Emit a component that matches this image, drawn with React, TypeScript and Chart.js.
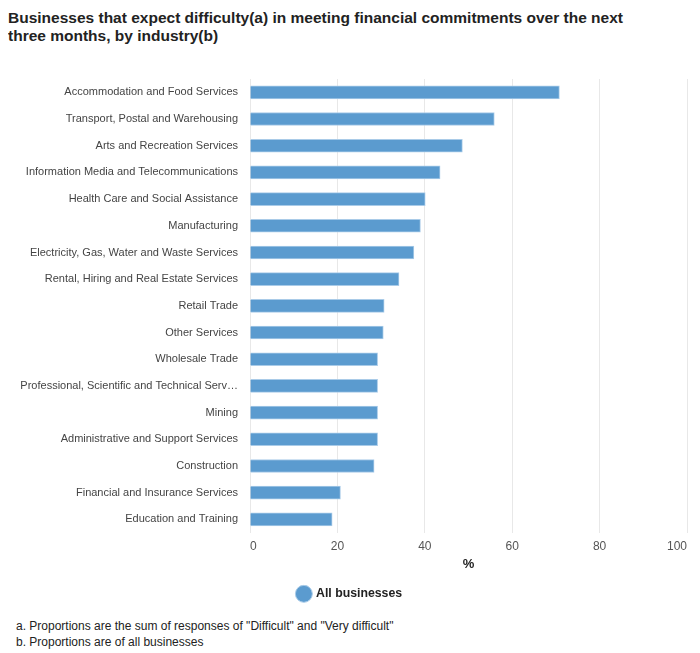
import React, { useEffect, useRef } from "react";
import { Chart, registerables } from "chart.js";

Chart.register(...registerables);

const industries: string[] = [
  "Accommodation and Food Services",
  "Transport, Postal and Warehousing",
  "Arts and Recreation Services",
  "Information Media and Telecommunications",
  "Health Care and Social Assistance",
  "Manufacturing",
  "Electricity, Gas, Water and Waste Services",
  "Rental, Hiring and Real Estate Services",
  "Retail Trade",
  "Other Services",
  "Wholesale Trade",
  "Professional, Scientific and Technical Serv…",
  "Mining",
  "Administrative and Support Services",
  "Construction",
  "Financial and Insurance Services",
  "Education and Training",
];

const allBusinesses: number[] = [
  70.8, 55.9, 48.6, 43.5, 40.1, 39.0, 37.5, 34.1, 30.7, 30.5, 29.2, 29.2, 29.2, 29.2, 28.4, 20.7, 18.8,
];

const seriesName = "All businesses";
const axisTitle = "%";
const chartTitle =
  "Businesses that expect difficulty(a) in meeting financial commitments over the next three months, by industry(b)";
const footnotes: string[] = [
  'a. Proportions are the sum of responses of "Difficult" and "Very difficult"',
  "b. Proportions are of all businesses",
];

const FONT = "'Liberation Sans', Arial, Helvetica, sans-serif";

export default function App() {
  const canvasRef = useRef<HTMLCanvasElement | null>(null);

  useEffect(() => {
    if (!canvasRef.current) return;
    const chart = new Chart(canvasRef.current, {
      type: "bar",
      data: {
        labels: industries,
        datasets: [
          {
            label: seriesName,
            data: allBusinesses,
            backgroundColor: "#5b9bcf",
            borderColor: "#a9cbe8",
            borderWidth: 1,
            barThickness: 13,
          },
        ],
      },
      options: {
        indexAxis: "y",
        animation: false,
        responsive: false,
        maintainAspectRatio: false,
        layout: { padding: { top: 29, right: 0, left: 0, bottom: 0 } },
        scales: {
          x: {
            min: 0,
            max: 100,
            ticks: {
              stepSize: 20,
              padding: 7,
              align: "inner",
              color: "#555",
              font: { family: FONT, size: 12 },
            },
            grid: { color: "#e8e8e8", drawTicks: false, tickLength: 0 },
            border: { display: false },
            title: {
              display: true,
              text: axisTitle,
              color: "#222",
              font: { family: FONT, size: 13, weight: "bold" },
              padding: { top: 0, bottom: 5 },
            },
            afterFit: (scale: any) => {
              scale.paddingRight = 5;
              scale.paddingLeft = 0;
              scale.height = 45;
            },
          },
          y: {
            grid: { display: false, drawTicks: false, tickLength: 0 },
            border: { display: false },
            ticks: {
              padding: 12,
              color: "#444",
              font: { family: FONT, size: 11 },
              autoSkip: false,
            },
            afterFit: (scale: any) => {
              scale.width = 242;
            },
          },
        },
        plugins: {
          legend: {
            position: "bottom",
            labels: {
              usePointStyle: true,
              pointStyle: "circle",
              boxWidth: 12,
              boxHeight: 12,
              color: "#222",
              font: { family: FONT, size: 12.3, weight: "bold" },
              padding: 10,
            },
          },
          tooltip: { enabled: false },
        },
      },
    });
    return () => chart.destroy();
  }, []);

  return (
    <div style={{ width: 684, fontFamily: FONT }}>
      <div
        style={{
          fontSize: 15.5,
          fontWeight: "bold",
          lineHeight: "18px",
          color: "#222",
          width: 640,
          height: 41,
          paddingTop: 1,
        }}
      >
        {chartTitle}
      </div>
      <canvas ref={canvasRef} width={684} height={560} style={{ display: "block" }} />
      <div style={{ paddingLeft: 8, fontSize: 12, lineHeight: "16px", color: "#222", marginTop: 8 }}>
        {footnotes.map((f, i) => (
          <div key={i}>{f}</div>
        ))}
      </div>
    </div>
  );
}
